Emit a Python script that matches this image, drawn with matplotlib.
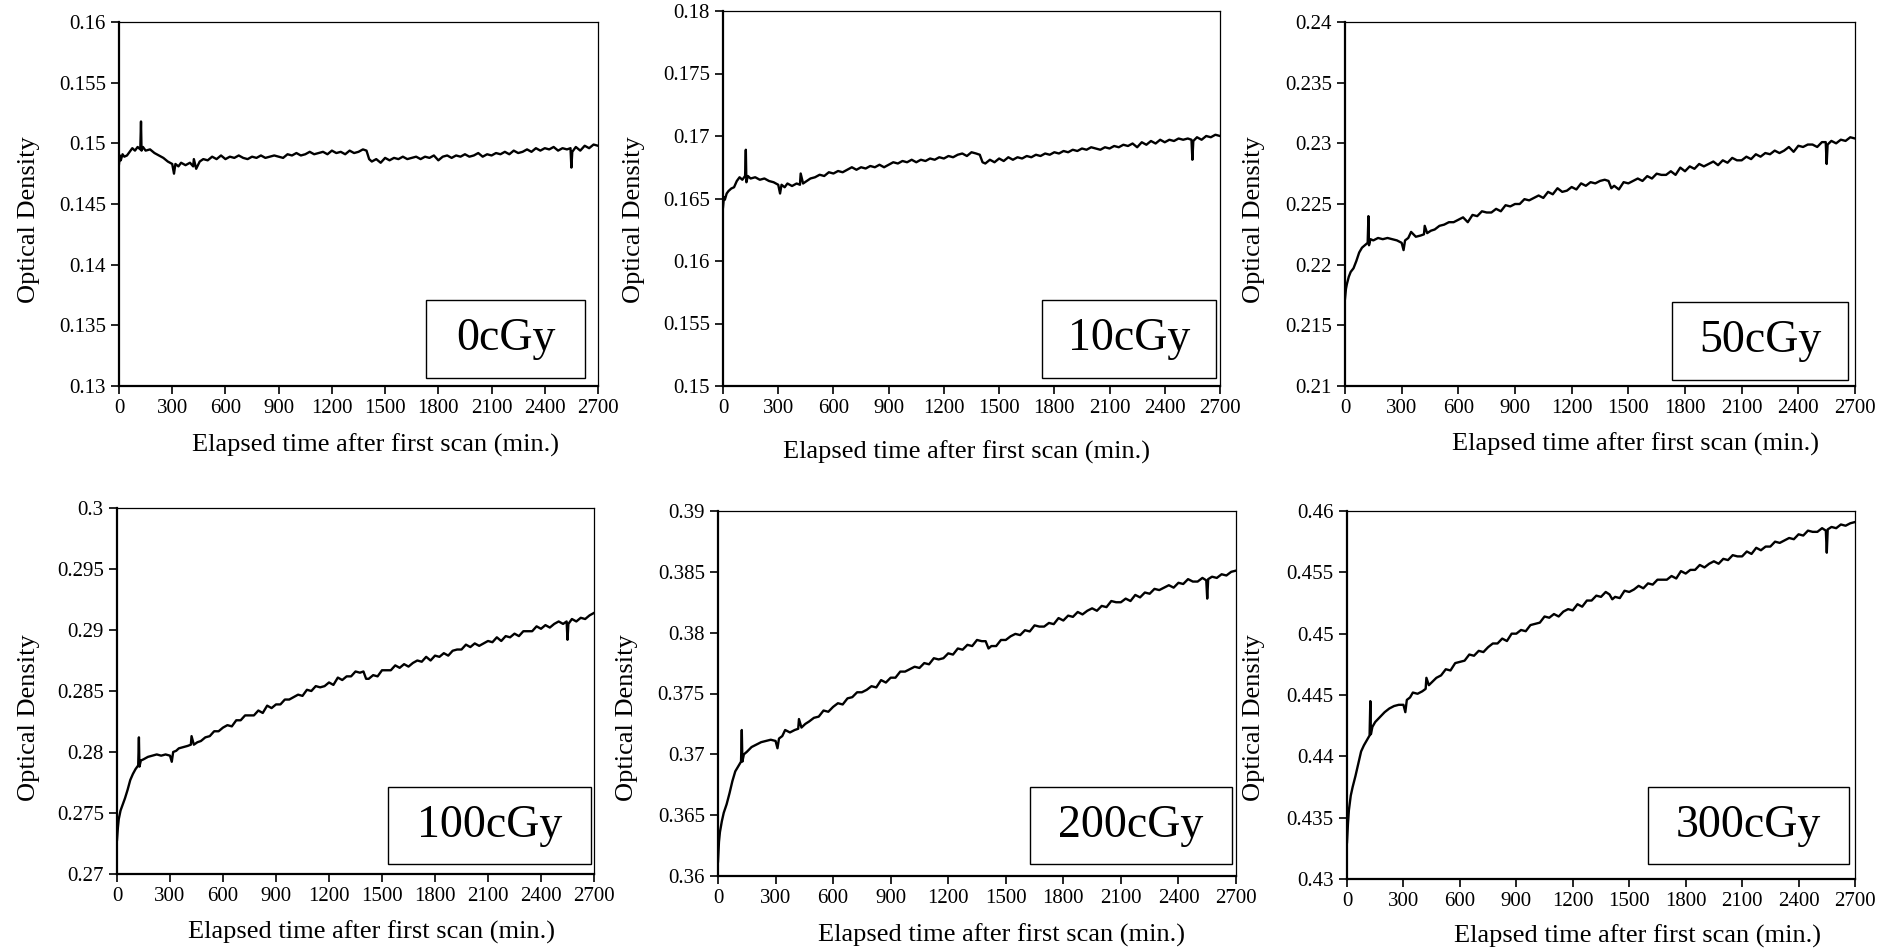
"""
Optical density drift of scanned film after the first scan, one panel per dose.
"""
import matplotlib
matplotlib.use('Agg')
import matplotlib.pyplot as plt
from matplotlib.patches import Rectangle
import numpy as np

plt.rcParams['font.family'] = ['Liberation Serif', 'DejaVu Serif']

# ─── Data ────────────────────────────────────────────────────────────────────

minutes = [
    0, 5, 10, 20, 30, 45, 60, 75, 90, 105, 120, 124, 127, 135, 150, 175,
    200, 225, 250, 275, 300, 310, 318, 335, 350, 375, 400, 418, 422, 435, 455, 475,
    500, 525, 550, 575, 600, 625, 650, 675, 700, 725, 750, 775, 800, 825, 850, 875,
    900, 925, 950, 975, 1000, 1025, 1050, 1075, 1100, 1125, 1150, 1175, 1200, 1225, 1250, 1275,
    1300, 1325, 1350, 1375, 1395, 1410,
    1425, 1450, 1475, 1500, 1525, 1550, 1575, 1600, 1625, 1650,
    1675, 1700, 1725, 1750, 1775, 1800, 1825, 1850, 1875, 1900,
    1925, 1950, 1975, 2000, 2025, 2050, 2075, 2100, 2125, 2150,
    2175, 2200, 2225, 2250, 2275, 2300, 2325, 2350, 2375, 2400,
    2425, 2450, 2475, 2500, 2525, 2545, 2550, 2555,
    2575, 2600, 2625, 2650, 2675, 2700,
]

od_0cgy = [
    0.1483, 0.1490, 0.1486, 0.1491, 0.1489, 0.1490, 0.1493, 0.1496, 0.1494, 0.1497, 0.1495, 0.1518, 0.1494, 0.1497, 0.1494, 0.1495,
    0.1492, 0.1490, 0.1488, 0.1485, 0.1483, 0.1475, 0.1483, 0.1481, 0.1484, 0.1482, 0.1484, 0.1481, 0.1487, 0.1479, 0.1485, 0.1487,
    0.1486, 0.1489, 0.1487, 0.1490, 0.1487, 0.1489, 0.1488, 0.1490, 0.1488, 0.1487, 0.1489, 0.1488, 0.1490, 0.1488, 0.1489, 0.1490,
    0.1489, 0.1488, 0.1491, 0.1490, 0.1492, 0.1490, 0.1491, 0.1493, 0.1491, 0.1492, 0.1493, 0.1491, 0.1494, 0.1492, 0.1493, 0.1491,
    0.1494, 0.1492, 0.1493, 0.1495, 0.1494, 0.1487,
    0.1485, 0.1487, 0.1484, 0.1488, 0.1486, 0.1488, 0.1487, 0.1489, 0.1487, 0.1488,
    0.1489, 0.1487, 0.1489, 0.1488, 0.1490, 0.1486, 0.1489, 0.1490, 0.1488, 0.1490,
    0.1489, 0.1491, 0.1489, 0.1490, 0.1492, 0.1489, 0.1491, 0.1490, 0.1492, 0.1491,
    0.1493, 0.1491, 0.1494, 0.1492, 0.1493, 0.1495, 0.1493, 0.1496, 0.1494, 0.1496,
    0.1495, 0.1497, 0.1494, 0.1496, 0.1495, 0.1496, 0.1480, 0.1493,
    0.1497, 0.1494, 0.1498, 0.1496, 0.1499, 0.1498,
]

od_10cgy = [
    0.1643, 0.1651, 0.1649, 0.1654, 0.1656, 0.1658, 0.1659, 0.1664, 0.1667, 0.1665, 0.1668, 0.1689, 0.1663, 0.1668, 0.1666, 0.1667,
    0.1665, 0.1666, 0.1664, 0.1663, 0.1661, 0.1654, 0.1661, 0.1659, 0.1662, 0.1660, 0.1662, 0.1661, 0.1670, 0.1662, 0.1664, 0.1666,
    0.1667, 0.1669, 0.1668, 0.1671, 0.1670, 0.1672, 0.1671, 0.1673, 0.1675, 0.1673, 0.1675, 0.1674, 0.1676, 0.1675, 0.1677, 0.1675,
    0.1677, 0.1679, 0.1678, 0.1680, 0.1679, 0.1681, 0.1679, 0.1681, 0.1680, 0.1682, 0.1681, 0.1683, 0.1682, 0.1684, 0.1683, 0.1685,
    0.1686, 0.1684, 0.1687, 0.1686, 0.1685, 0.1679,
    0.1678, 0.1681, 0.1679, 0.1682, 0.1680, 0.1683, 0.1681, 0.1683, 0.1682, 0.1684,
    0.1683, 0.1685, 0.1684, 0.1686, 0.1685, 0.1687, 0.1686, 0.1688, 0.1687, 0.1689,
    0.1688, 0.1690, 0.1689, 0.1691, 0.1690, 0.1689, 0.1691, 0.1690, 0.1692, 0.1691,
    0.1693, 0.1692, 0.1694, 0.1691, 0.1695, 0.1693, 0.1696, 0.1694, 0.1697, 0.1695,
    0.1697, 0.1696, 0.1698, 0.1697, 0.1698, 0.1697, 0.1681, 0.1696,
    0.1699, 0.1697, 0.1700, 0.1699, 0.1701, 0.1700,
]

od_50cgy = [
    0.2172, 0.2180, 0.2184, 0.2190, 0.2194, 0.2197, 0.2203, 0.2210, 0.2214, 0.2216, 0.2218, 0.2240, 0.2216, 0.2221, 0.2220, 0.2222,
    0.2221, 0.2222, 0.2221, 0.2220, 0.2218, 0.2212, 0.2220, 0.2222, 0.2227, 0.2223, 0.2224, 0.2225, 0.2232, 0.2226, 0.2228, 0.2229,
    0.2232, 0.2233, 0.2235, 0.2235, 0.2237, 0.2239, 0.2235, 0.2241, 0.2240, 0.2244, 0.2243, 0.2243, 0.2246, 0.2244, 0.2249, 0.2248,
    0.2250, 0.2250, 0.2254, 0.2253, 0.2255, 0.2257, 0.2255, 0.2260, 0.2258, 0.2263, 0.2260, 0.2261, 0.2264, 0.2262, 0.2267, 0.2265,
    0.2268, 0.2267, 0.2269, 0.2270, 0.2269, 0.2263,
    0.2265, 0.2262, 0.2268, 0.2267, 0.2269, 0.2271, 0.2269, 0.2273, 0.2271, 0.2275,
    0.2274, 0.2274, 0.2277, 0.2274, 0.2280, 0.2277, 0.2281, 0.2279, 0.2283, 0.2281,
    0.2283, 0.2285, 0.2282, 0.2286, 0.2284, 0.2288, 0.2286, 0.2286, 0.2289, 0.2287,
    0.2291, 0.2289, 0.2292, 0.2291, 0.2294, 0.2292, 0.2294, 0.2297, 0.2293, 0.2298,
    0.2297, 0.2299, 0.2299, 0.2297, 0.2301, 0.2301, 0.2283, 0.2299,
    0.2302, 0.2300, 0.2303, 0.2302, 0.2305, 0.2304,
]

od_100cgy = [
    0.2728, 0.2738, 0.2745, 0.2752, 0.2756, 0.2762, 0.2769, 0.2777, 0.2782, 0.2786, 0.2789, 0.2812, 0.2788, 0.2793, 0.2794, 0.2796,
    0.2797, 0.2798, 0.2797, 0.2798, 0.2797, 0.2792, 0.2800, 0.2801, 0.2803, 0.2804, 0.2805, 0.2806, 0.2813, 0.2806, 0.2808, 0.2809,
    0.2812, 0.2813, 0.2817, 0.2817, 0.2820, 0.2822, 0.2821, 0.2826, 0.2826, 0.2830, 0.2830, 0.2830, 0.2834, 0.2832, 0.2838, 0.2836,
    0.2839, 0.2839, 0.2843, 0.2843, 0.2845, 0.2847, 0.2846, 0.2851, 0.2850, 0.2854, 0.2853, 0.2854, 0.2857, 0.2855, 0.2861, 0.2859,
    0.2862, 0.2862, 0.2866, 0.2865, 0.2866, 0.2860,
    0.2860, 0.2863, 0.2862, 0.2867, 0.2867, 0.2867, 0.2871, 0.2869, 0.2872, 0.2870,
    0.2873, 0.2875, 0.2874, 0.2878, 0.2875, 0.2879, 0.2878, 0.2881, 0.2879, 0.2883,
    0.2884, 0.2884, 0.2888, 0.2886, 0.2889, 0.2887, 0.2889, 0.2891, 0.2890, 0.2894,
    0.2891, 0.2895, 0.2894, 0.2897, 0.2895, 0.2899, 0.2899, 0.2899, 0.2903, 0.2901,
    0.2904, 0.2902, 0.2905, 0.2907, 0.2905, 0.2907, 0.2892, 0.2905,
    0.2909, 0.2907, 0.2910, 0.2909, 0.2912, 0.2914,
]

od_200cgy = [
    0.3612, 0.3628, 0.3636, 0.3645, 0.3652, 0.3659, 0.3668, 0.3678, 0.3686, 0.3690, 0.3694, 0.3720, 0.3694, 0.3700, 0.3702, 0.3706,
    0.3708, 0.3710, 0.3711, 0.3712, 0.3711, 0.3705, 0.3713, 0.3715, 0.3720, 0.3718, 0.3720, 0.3721, 0.3729, 0.3722, 0.3725, 0.3727,
    0.3730, 0.3731, 0.3736, 0.3735, 0.3739, 0.3742, 0.3741, 0.3746, 0.3747, 0.3751, 0.3751, 0.3753, 0.3756, 0.3755, 0.3761, 0.3759,
    0.3763, 0.3763, 0.3768, 0.3768, 0.3770, 0.3772, 0.3771, 0.3775, 0.3774, 0.3779, 0.3778, 0.3779, 0.3783, 0.3782, 0.3787, 0.3786,
    0.3790, 0.3789, 0.3794, 0.3793, 0.3793, 0.3787,
    0.3789, 0.3789, 0.3794, 0.3794, 0.3797, 0.3799, 0.3798, 0.3802, 0.3801, 0.3806,
    0.3805, 0.3805, 0.3808, 0.3807, 0.3812, 0.3810, 0.3814, 0.3813, 0.3817, 0.3815,
    0.3818, 0.3820, 0.3818, 0.3822, 0.3821, 0.3826, 0.3825, 0.3825, 0.3828, 0.3826,
    0.3831, 0.3829, 0.3833, 0.3832, 0.3836, 0.3835, 0.3837, 0.3839, 0.3837, 0.3841,
    0.3840, 0.3844, 0.3842, 0.3842, 0.3845, 0.3843, 0.3828, 0.3844,
    0.3846, 0.3845, 0.3848, 0.3847, 0.3850, 0.3851,
]

od_300cgy = [
    0.4330, 0.4345, 0.4356, 0.4368, 0.4375, 0.4384, 0.4394, 0.4404, 0.4409, 0.4413, 0.4417, 0.4445, 0.4418, 0.4424, 0.4428, 0.4432,
    0.4436, 0.4439, 0.4441, 0.4442, 0.4442, 0.4436, 0.4446, 0.4448, 0.4452, 0.4451, 0.4453, 0.4455, 0.4464, 0.4458, 0.4461, 0.4464,
    0.4466, 0.4471, 0.4470, 0.4476, 0.4477, 0.4478, 0.4483, 0.4482, 0.4486, 0.4485, 0.4489, 0.4492, 0.4492, 0.4496, 0.4494, 0.4500,
    0.4500, 0.4503, 0.4502, 0.4507, 0.4508, 0.4509, 0.4514, 0.4513, 0.4516, 0.4514, 0.4518, 0.4520, 0.4519, 0.4524, 0.4522, 0.4527,
    0.4527, 0.4531, 0.4530, 0.4534, 0.4532, 0.4528,
    0.4530, 0.4529, 0.4535, 0.4534, 0.4536, 0.4539, 0.4537, 0.4541, 0.4540, 0.4544,
    0.4544, 0.4544, 0.4547, 0.4545, 0.4551, 0.4549, 0.4552, 0.4552, 0.4556, 0.4554,
    0.4557, 0.4559, 0.4557, 0.4561, 0.4560, 0.4564, 0.4563, 0.4563, 0.4567, 0.4565,
    0.4570, 0.4568, 0.4571, 0.4571, 0.4575, 0.4574, 0.4576, 0.4578, 0.4577, 0.4581,
    0.4580, 0.4584, 0.4583, 0.4583, 0.4586, 0.4584, 0.4566, 0.4585,
    0.4587, 0.4586, 0.4589, 0.4588, 0.4590, 0.4591,
]

series = [od_0cgy, od_10cgy, od_50cgy, od_100cgy, od_200cgy, od_300cgy]
dose_labels = ['0cGy', '10cGy', '50cGy', '100cGy', '200cGy', '300cGy']
y_limits = [(0.13, 0.16), (0.15, 0.18), (0.21, 0.24),
            (0.27, 0.30), (0.36, 0.39), (0.43, 0.46)]
x_ticks = [0, 300, 600, 900, 1200, 1500, 1800, 2100, 2400, 2700]

# ─── Layout (pixel positions in the 1886x951 canvas) ─────────────────────────

FIG_W, FIG_H = 1886, 951
# (left, right, top, bottom) of each plot area
axes_px = [(119, 598, 22, 386), (723, 1220, 11, 386), (1345, 1855, 22, 386),
           (117, 594, 508, 874), (718, 1236, 511, 876), (1347, 1855, 511, 879)]
# (left, right, top, bottom) of each dose box
box_px = [(426, 585, 300, 378), (1042, 1216, 300, 378), (1672, 1848, 302, 380),
          (388, 591, 787, 864), (1030, 1232, 787, 864), (1648, 1849, 787, 864)]
# centres of axis labels
xlabel_px = [(376, 445), (967, 452), (1636, 444), (372, 932), (1001, 935), (1637, 936)]
ylabel_px = [(29, 220), (634, 220), (1254, 220), (29, 718), (627, 718), (1254, 718)]


def fmt_od(v):
    return f'{v:.3f}'.rstrip('0').rstrip('.')


fig = plt.figure(figsize=(FIG_W / 100, FIG_H / 100), dpi=100)

for i, od in enumerate(series):
    l, r, t, b = axes_px[i]
    ax = fig.add_axes([l / FIG_W, 1 - b / FIG_H, (r - l) / FIG_W, (b - t) / FIG_H])
    w, h = r - l, b - t

    ax.plot(minutes, od, color='black', linewidth=1.7)

    lo, hi = y_limits[i]
    yt = np.linspace(lo, hi, 7)
    ax.set_ylim(lo, hi)
    ax.set_yticks(yt)
    ax.set_yticklabels([fmt_od(v) for v in yt])
    ax.set_xlim(0, 2700)
    ax.set_xticks(x_ticks)
    ax.tick_params(direction='out', length=5.5, width=1.2, labelsize=15)
    ax.tick_params(axis='y', pad=4)
    ax.tick_params(axis='x', pad=4)

    for side in ['left', 'bottom']:
        ax.spines[side].set_linewidth(1.6)
    for side in ['top', 'right']:
        ax.spines[side].set_linewidth(0.9)

    ax.set_xlabel('Elapsed time after first scan (min.)', fontsize=19, va='center')
    xc, yc = xlabel_px[i]
    ax.xaxis.set_label_coords((xc - l) / w, (b - yc) / h)
    ax.set_ylabel('Optical Density', fontsize=19, va='center')
    xc, yc = ylabel_px[i]
    ax.yaxis.set_label_coords((xc - l) / w, (b - yc) / h)

    # dose label box
    bl, br, bt, bb = box_px[i]
    x0, y0 = (bl - l) / w, (b - bb) / h
    bw, bh = (br - bl) / w, (bb - bt) / h
    ax.add_patch(Rectangle((x0, y0), bw, bh, transform=ax.transAxes,
                           facecolor='white', edgecolor='black', linewidth=1.0,
                           zorder=3))
    ax.text(x0 + bw / 2, y0 + bh / 2, dose_labels[i], transform=ax.transAxes,
            ha='center', va='center', fontsize=33, zorder=4)

fig.savefig('out.png', dpi=100)
